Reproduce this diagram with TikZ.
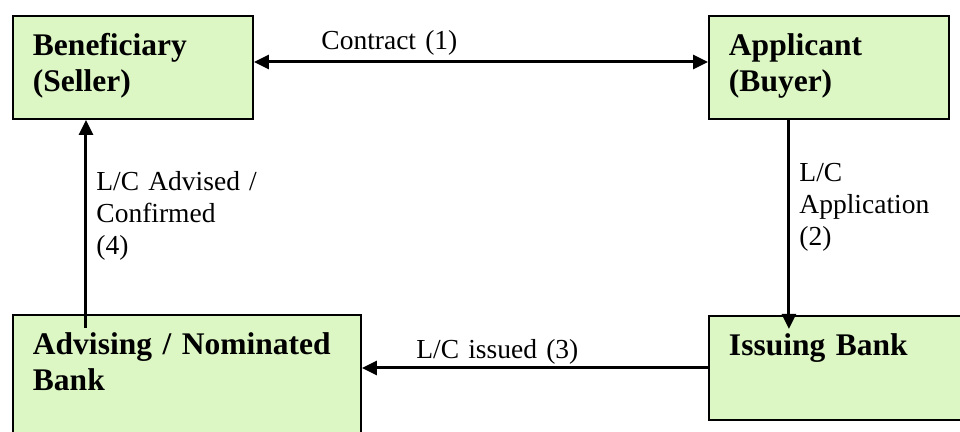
\documentclass[tikz,border=0pt]{standalone}
\usepackage{fontspec}
\setmainfont{Liberation Serif}
\usetikzlibrary{arrows.meta}
\definecolor{boxgreen}{RGB}{220,247,196}
\tikzset{
  partybox/.style = {shape=rectangle, draw=black, line width=0.95pt,
                     fill=boxgreen, anchor=north west, align=left,
                     inner xsep=0.333cm, inner ysep=0pt,
                     text height=18.97pt, text depth=29.88pt,
                     font=\fontsize{14.94}{16.84}\selectfont\bfseries},
  flowlabel/.style = {anchor=base west, align=left, text width=3cm,
                      inner sep=0pt, font=\fontsize{13.04}{15.18}\selectfont},
  arrow/.style = {line width=1.42pt, ->},
  >={Triangle[length=7.1pt,width=6.6pt]}
}

\begin{document}
\begin{tikzpicture}
  \useasboundingbox (0,0) rectangle (16,7.2);
  \clip (0,0) rectangle (16,7.2);

  \node (ben) [partybox, text width=3.333cm] at (0.2,6.95) {Beneficiary\\(Seller)};
  \node (app) [partybox, text width=3.333cm] at (11.8,6.95) {Applicant\\(Buyer)};
  \node (adv) [partybox, text width=5.133cm, text depth=47pt] at (0.2,1.967) {Advising / Nominated\\Bank};
  \node (iss) [partybox, text width=3.783cm, text depth=30.35pt] at (11.8,1.95) {Issuing Bank};

  \node (contract) [flowlabel] at (5.35,6.383) {Contract (1)};
  \node (applic) [flowlabel] at (13.317,4.167) {L/C\\Application\\(2)};
  \node (issued) [flowlabel] at (6.933,1.233) {L/C issued (3)};
  \node (advised) [flowlabel] at (1.6,4.017) {L/C Advised /\\Confirmed\\(4)};

  \draw [arrow, <->] ([yshift=0.092cm]ben.east) -- ([yshift=0.092cm]ben.east -| app.west);
  \draw [arrow, shorten >=-0.233cm] ([xshift=-0.667cm]app.south) -- ([xshift=-0.667cm]app.south |- iss.north);
  \draw [arrow] (iss.west) -- (iss.west -| adv.east);
  \draw [arrow, shorten <=-0.233cm] ([xshift=-1.683cm]adv.north) -- ([xshift=-1.683cm]adv.north |- ben.south);
\end{tikzpicture}
\end{document}
